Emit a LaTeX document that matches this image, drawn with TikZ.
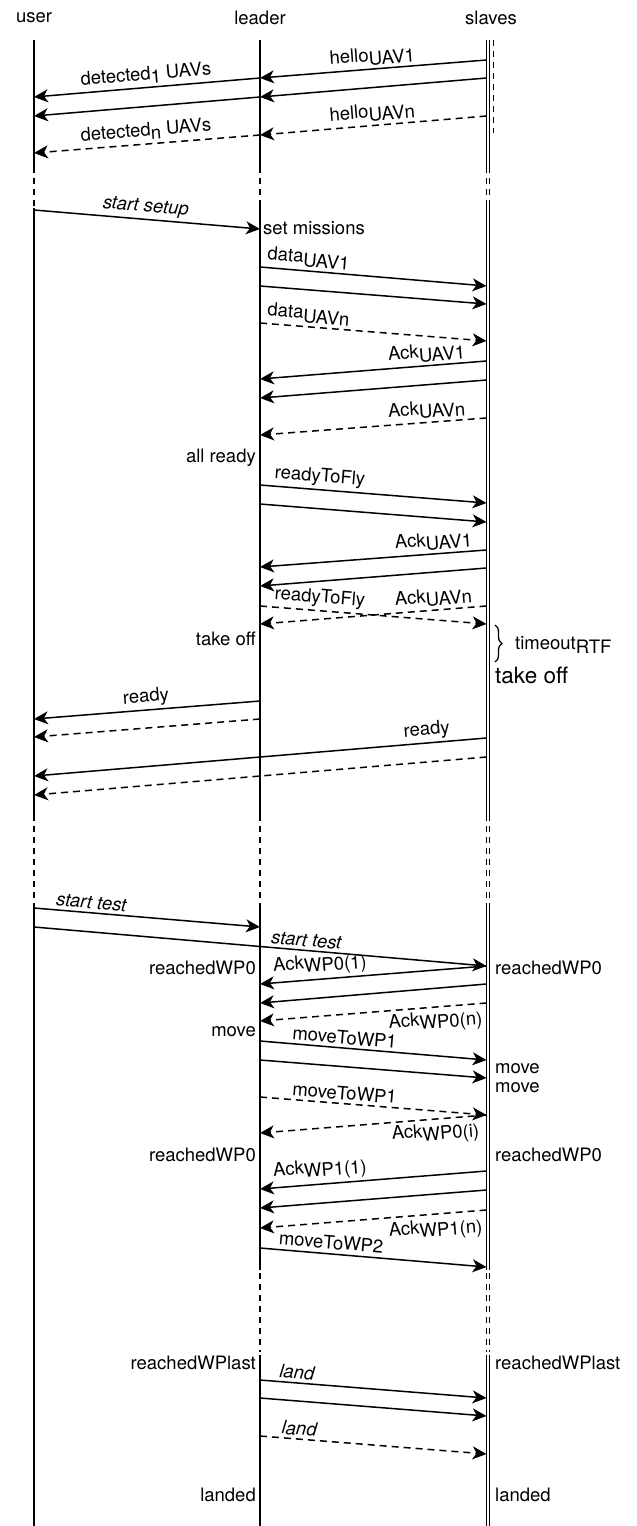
\documentclass[tikz,border=0pt]{standalone}
\usepackage{fontspec}
\setmainfont{TeX Gyre Heros}
\usetikzlibrary{arrows.meta,decorations.pathreplacing}
\definecolor{ink}{HTML}{000000}
\newcommand{\lowsub}[1]{\raisebox{-4pt}{#1}}
\tikzset{
  every node/.style={font=\fontsize{18.5}{20}\selectfont, text=ink, inner sep=1pt},
  head/.style={anchor=center},
  life/.style={draw=ink, line width=1.2pt},
  lifedash/.style={life, dash pattern=on 6pt off 5pt},
  slave/.style={draw=ink, line width=1pt, double, double distance=1.8pt},
  slavedash/.style={slave, dash pattern=on 6pt off 5pt},
  msg/.style={-{Stealth[length=14pt,width=13pt,inset=4pt]}, line width=1.5pt, draw=ink},
  dmsg/.style={msg, dash pattern=on 7pt off 5pt},
  lbl/.style={sloped, above=2pt},
  lblb/.style={sloped, below=2pt},
  lstate/.style={anchor=east},
  rstate/.style={anchor=west},
}
\begin{document}
\begin{tikzpicture}[x=1pt,y=-1pt]
\useasboundingbox (0,0) rectangle (637,1526);
\node[head] (user) at (34,18) {user};
\node[head] (leader) at (260,18) {leader};
\node[head] (slaves) at (491,18) {slaves};
\coordinate (U) at (34,40);\coordinate (L) at (260,40);\coordinate (S) at (486.5,40);
\coordinate (SS) at (488,40);\coordinate (SD) at (493.5,40);
% lifelines
\draw[life] (U) -- (U |- 0,173);\draw[lifedash] (U |- 0,178) -- (U |- 0,208);
\draw[life] (U |- 0,208) -- (U |- 0,815);\draw[lifedash] (U |- 0,815) -- (U |- 0,903);
\draw[life] (U |- 0,903) -- (U |- 0,1526);
\foreach \c/\s/\d in {L/life/lifedash,SS/slave/slavedash}{
  \draw[\s] (\c) -- (\c |- 0,173);\draw[\d] (\c |- 0,178) -- (\c |- 0,205);
  \draw[\s] (\c |- 0,205) -- (\c |- 0,815);\draw[\d] (\c |- 0,815) -- (\c |- 0,903);
  \draw[\s] (\c |- 0,903) -- (\c |- 0,1270);\draw[\d] (\c |- 0,1273) -- (\c |- 0,1352);
  \draw[\s] (\c |- 0,1355) -- (\c |- 0,1526);
}
\draw[lifedash] (SD) -- (SD |- 0,133);
% discovery
\draw[msg] (S |- 0,60) -- node[lbl]{hello\lowsub{UAV1}} (L |- 0,78);
\draw[msg] (S |- 0,78) -- (L |- 0,97);
\draw[dmsg] (S |- 0,116) -- node[lbl]{hello\lowsub{UAVn}} (L |- 0,135);
\draw[msg] (L |- 0,78) -- node[lbl]{detected\lowsub{1} UAVs} (U |- 0,97);
\draw[msg] (L |- 0,97) -- (U |- 0,116);
\draw[dmsg] (L |- 0,135) -- node[lbl]{detected\lowsub{n} UAVs} (U |- 0,153);
% setup
\draw[msg] (U |- 0,210) -- node[lbl,pos=.49]{\itshape start setup} (L |- 0,229);
\node[rstate] (setm) at (262,228) {set missions};
\draw[msg] (L |- 0,267) -- node[lbl,pos=.21]{data\lowsub{UAV1}} (S |- 0,286);
\draw[msg] (L |- 0,286) -- (S |- 0,304);
\draw[dmsg] (L |- 0,323) -- node[lbl,pos=.21]{data\lowsub{UAVn}} (S |- 0,341);
\draw[msg] (S |- 0,361) -- node[lbl,pos=.26]{Ack\lowsub{UAV1}} (L |- 0,379);
\draw[msg] (S |- 0,380) -- (L |- 0,398);
\draw[dmsg] (S |- 0,418) -- node[lbl,pos=.26]{Ack\lowsub{UAVn}} (L |- 0,435);
\node[lstate] (allr) at (257,458) {all ready};
% ready to fly
\draw[msg] (L |- 0,485) -- node[lbl,pos=.26]{readyToFly} (S |- 0,503);
\draw[msg] (L |- 0,504) -- (S |- 0,522);
\draw[msg] (S |- 0,550) -- node[lbl,pos=.23]{Ack\lowsub{UAV1}} (L |- 0,567);
\draw[msg] (S |- 0,568) -- (L |- 0,586);
\draw[dmsg] (L |- 0,606) -- node[lbl,pos=.26,above=0pt]{readyToFly} (S |- 0,624);
\draw[dmsg] (S |- 0,606) -- node[lbl,pos=.23]{Ack\lowsub{UAVn}} (L |- 0,624);
\node[lstate] (ltk) at (257,639) {take off};
\draw[ink,line width=1.3pt,decorate,decoration={brace,amplitude=7pt}] (495,625) -- (495,662);
\node[rstate] (tmo) at (514,645) {timeout\lowsub{RTF}};
\node[rstate,font=\fontsize{22.5}{24}\selectfont] (stk) at (494,675) {take off};
% ready to user
\draw[msg] (L |- 0,701) -- node[lbl]{ready} (U |- 0,719);
\draw[dmsg] (L |- 0,719) -- (U |- 0,737);
\draw[msg] (S |- 0,738) -- node[lbl,pos=.13]{ready} (U |- 0,776);
\draw[dmsg] (S |- 0,757) -- (U |- 0,795);
% test
\draw[msg] (U |- 0,908) -- node[lbl,pos=.25]{\itshape start test} (L |- 0,927);
\draw[msg] (U |- 0,927) -- node[lbl,pos=.6]{\itshape start test} (S |- 0,966);
\node[lstate] (lr0) at (257,968) {reachedWP0};\node[rstate] (sr0) at (494,968) {reachedWP0};
\draw[msg] (S |- 0,966) -- node[lbl,pos=.73]{Ack\lowsub{WP0(1)}} (L |- 0,984);
\draw[msg] (S |- 0,984) -- (L |- 0,1003);
\draw[dmsg] (S |- 0,1003) -- node[lblb,pos=.23]{Ack\lowsub{WP0(n)}} (L |- 0,1021);
\node[lstate] (lmv) at (257,1032) {move};
\draw[msg] (L |- 0,1041) -- node[lbl,pos=.37]{moveToWP1} (S |- 0,1060);
\draw[msg] (L |- 0,1060) -- (S |- 0,1078);
\node[rstate] (smv1) at (494,1069) {move};\node[rstate] (smv2) at (494,1088) {move};
\draw[dmsg] (L |- 0,1097) -- node[lbl,pos=.37]{moveToWP1} (S |- 0,1115);
\draw[dmsg] (S |- 0,1115) -- node[lblb,pos=.23]{Ack\lowsub{WP0(i)}} (L |- 0,1133);
\node[lstate] (lr1) at (257,1155) {reachedWP0};\node[rstate] (sr1) at (494,1155) {reachedWP0};
\draw[msg] (S |- 0,1171) -- node[lbl,pos=.73]{Ack\lowsub{WP1(1)}} (L |- 0,1189);
\draw[msg] (S |- 0,1190) -- (L |- 0,1208);
\draw[dmsg] (S |- 0,1210) -- node[lblb,pos=.23,below=1pt]{Ack\lowsub{WP1(n)}} (L |- 0,1228);
\draw[msg] (L |- 0,1248) -- node[lbl,pos=.31,above=1pt]{moveToWP2} (S |- 0,1267);
% landing
\node[lstate] (lrl) at (257,1363) {reachedWPlast};\node[rstate] (srl) at (494,1363) {reachedWPlast};
\draw[msg] (L |- 0,1380) -- node[lbl,pos=.16]{\itshape land} (S |- 0,1398);
\draw[msg] (L |- 0,1398) -- (S |- 0,1416);
\draw[dmsg] (L |- 0,1436) -- node[lbl,pos=.17]{\itshape land} (S |- 0,1454);
\node[lstate] (lld) at (257,1495) {landed};\node[rstate] (sld) at (494,1495) {landed};
\end{tikzpicture}
\end{document}
